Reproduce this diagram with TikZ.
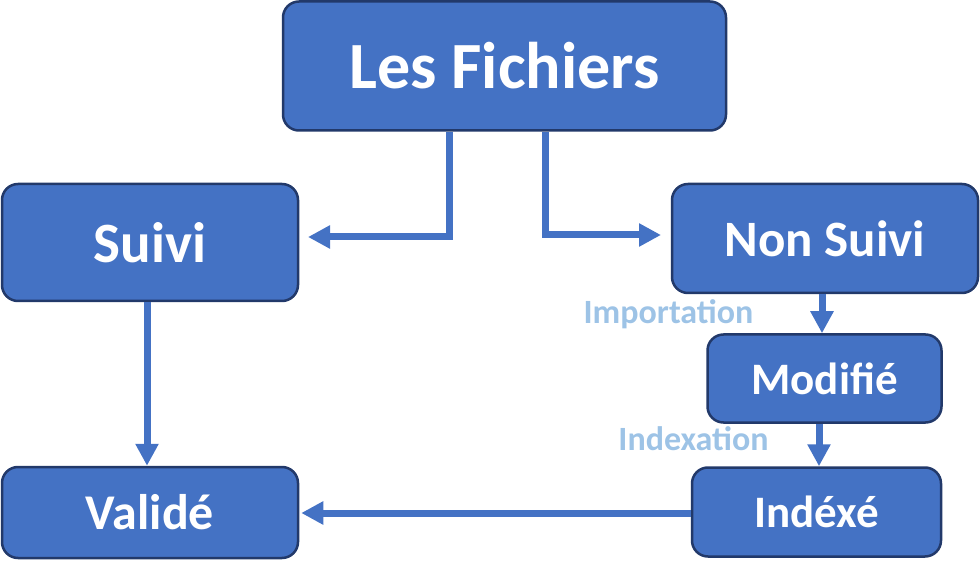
\documentclass[tikz,border=0pt]{standalone}
\usepackage{fontspec}
\setmainfont{Carlito}
\usetikzlibrary{arrows.meta,calc}
\definecolor{boxblue}{HTML}{4472C4}
\definecolor{boxedge}{HTML}{22396A}
\definecolor{lblblue}{HTML}{9DC3E6}
\tikzset{
  box/.style={draw=boxedge, line width=2.5pt, fill=boxblue, rounded corners=16pt,
    text=white, font=\bfseries, inner sep=0pt},
  arr/.style={draw=boxblue, line width=7pt, -{Triangle[length=22pt,width=22pt]}},
  lbl/.style={text=lblblue, font=\bfseries\fontsize{34}{38}\selectfont, inner sep=0pt}
}
\begin{document}
\begin{tikzpicture}[x=1pt,y=-1pt]
\useasboundingbox (0,0) rectangle (980,577);
\node[box, minimum width=443pt, minimum height=129pt, font=\bfseries\fontsize{66}{72}\selectfont] (LF) at (504.5,66) {Les Fichiers};
\node[box, minimum width=296pt, minimum height=117pt, font=\bfseries\fontsize{57}{62}\selectfont] (S) at (150,242.5) {Suivi};
\node[box, minimum width=306pt, minimum height=109pt, font=\bfseries\fontsize{51}{56}\selectfont] (NS) at (825,238.5) {Non Suivi};
\node[box, minimum width=234pt, minimum height=88pt, font=\bfseries\fontsize{45}{50}\selectfont] (M) at (824.5,378.5) {Modifié};
\node[box, minimum width=296pt, minimum height=91pt, font=\bfseries\fontsize{50}{54}\selectfont] (V) at (150,512.5) {Validé};
\node[box, minimum width=249pt, minimum height=89pt, font=\bfseries\fontsize{45}{50}\selectfont] (I) at (816.5,512) {Indéxé};
\node[lbl] (imp) at (668.5,314) {Importation};
\node[lbl] (idx) at (693.5,439) {Indexation};
\coordinate (t1) at (308,237);
\coordinate (t2) at (661,235);
\draw[arr] (LF.south -| 449,0) |- (t1);
\draw[arr] (LF.south -| 545,0) |- (t2);
\draw[arr] (S.south -| 147,0) -- (V.north -| 147,0);
\draw[arr] (NS.south -| 822,0) -- (M.north -| 822,0);
\draw[arr] (M.south -| 819,0) -- (I.north -| 819,0);
\draw[arr, shorten >=2pt] (I.west |- 0,513) -- (V.east |- 0,513);
\end{tikzpicture}
\end{document}
